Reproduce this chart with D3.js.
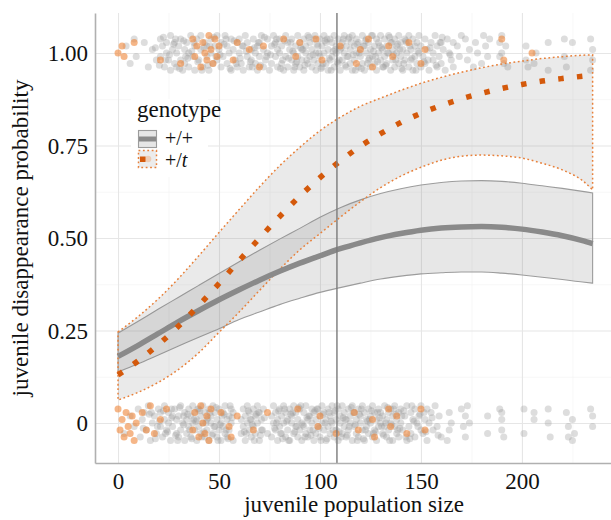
<!DOCTYPE html>
<html>
<head>
<meta charset="utf-8">
<script src="https://cdn.jsdelivr.net/npm/d3@7"></script>
<style>
body { margin: 0; background: #fff; }
svg text { font-family: "Liberation Serif", "Times New Roman", serif; }
</style>
</head>
<body>
<svg id="chart"></svg>
<script>
// fitted curves
var popSize = [0,10,20,30,40,50,60,70,80,90,100,110,120,130,140,150,160,170,180,190,200,210,220,230,235];
var fitWT = [0.180,0.210,0.242,0.274,0.304,0.333,0.360,0.386,0.410,0.432,0.452,0.471,0.487,0.501,0.512,0.521,0.527,0.530,0.531,0.529,0.524,0.516,0.506,0.493,0.485];
var lowWT = [0.138,0.160,0.184,0.208,0.232,0.255,0.280,0.300,0.320,0.337,0.353,0.366,0.378,0.389,0.397,0.403,0.406,0.408,0.408,0.405,0.400,0.394,0.388,0.381,0.378];
var highWT = [0.243,0.275,0.308,0.340,0.372,0.404,0.436,0.467,0.497,0.526,0.556,0.582,0.603,0.620,0.633,0.643,0.650,0.654,0.655,0.653,0.648,0.641,0.634,0.626,0.622];
var fitT = [0.130,0.168,0.212,0.262,0.318,0.377,0.439,0.499,0.558,0.613,0.663,0.708,0.748,0.782,0.812,0.837,0.858,0.876,0.891,0.904,0.915,0.924,0.931,0.937,0.940];
var lowT = [0.062,0.083,0.110,0.145,0.190,0.245,0.300,0.358,0.415,0.468,0.512,0.556,0.598,0.636,0.667,0.691,0.710,0.721,0.724,0.722,0.716,0.702,0.684,0.655,0.630];
var highT = [0.246,0.288,0.336,0.391,0.452,0.515,0.577,0.638,0.695,0.745,0.790,0.826,0.856,0.878,0.899,0.918,0.934,0.948,0.960,0.970,0.978,0.985,0.990,0.994,0.995];
var cutoff = 108.4;

// jittered observations: [population size, jitter step]
var goneWT = [[4,2],[6,-3],[8,4],[9,-1],[13,3],[15,-4],[17,1],[19,-2],[21,4],[21,-1],[22,2],[23,-4],[24,0],[24,3],[25,-2],[26,5],[26,-5],[27,1],[28,-3],[28,3],[29,0],[29,-4],
[30,2],[31,-2],[31,4],[32,-5],[33,1],[33,-3],[34,3],[35,0],[35,-4],[36,5],[37,-1],[38,2],[38,-5],[39,4],[40,-2],[41,1],[41,5],[42,-4],[43,3],[44,-1],[44,2],[45,-5],[46,4],[46,0],[47,-3],[48,2],[49,-2],[49,5],
[50,1],[51,-4],[51,3],[52,-1],[53,5],[54,-3],[54,2],[55,0],[56,-5],[56,4],[57,1],[58,-2],[59,3],[59,-4],[60,0],[60,4],[61,-3],[62,2],[62,-5],[63,5],[64,-1],[64,3],[65,-4],[66,1],[66,-2],[67,4],[68,-3],[68,0],[69,2],[69,-5],
[70,3],[70,-1],[71,5],[72,-4],[72,1],[73,-2],[74,4],[74,0],[75,-5],[76,2],[76,-3],[77,5],[78,-1],[78,3],[79,-4],[79,1],[80,0],[80,4],[81,-3],[81,2],[82,-5],[83,5],[83,-1],[84,3],[84,-4],[85,1],[86,-2],[86,4],[87,0],[87,-5],[88,2],[88,-3],[89,5],[89,-1],
[90,3],[90,-4],[91,1],[91,-2],[92,4],[92,-5],[93,0],[93,2],[94,-3],[94,5],[95,-1],[95,3],[96,-4],[96,1],[97,4],[97,-2],[98,0],[98,-5],[99,2],[99,-3],
[100,4],[100,-1],[101,2],[101,-4],[102,5],[102,0],[103,-3],[103,3],[104,-5],[104,1],[105,4],[105,-2],[106,-1],[106,3],[107,-4],[107,5],[108,0],[108,2],[109,-3],[109,4],[110,-5],[110,1],
[111,3],[111,-2],[112,0],[112,5],[113,-4],[113,2],[114,-1],[114,4],[115,-3],[115,1],[116,5],[116,-5],[117,2],[117,-2],[118,0],[118,4],[119,-4],[119,3],[120,-1],[120,1],[121,5],[121,-3],
[122,2],[122,-5],[123,4],[123,0],[124,-2],[124,3],[125,-4],[125,1],[126,5],[126,-1],[127,-3],[127,2],[128,4],[128,-5],[129,0],[129,3],[130,-2],[130,5],[131,-4],[131,1],[132,-1],[132,4],
[133,2],[133,-3],[134,5],[134,0],[135,-5],[135,3],[136,1],[136,-2],[137,4],[137,-4],[138,0],[138,2],[139,-3],[139,5],[140,-1],[140,3],[141,-5],[141,1],[142,4],[142,-2],
[143,0],[143,3],[144,-4],[144,5],[145,1],[145,-2],[146,4],[146,-5],[147,2],[147,-1],[148,-3],[148,3],[149,0],[149,5],[150,-4],[150,2],
[151,-1],[152,4],[152,-3],[153,1],[154,-5],[155,3],[156,0],[156,-2],[157,5],[158,-4],[158,2],[159,-1],[160,3],[160,-3],[161,1],[162,-5],[163,4],[164,0],[165,-2],[166,3],[166,-4],[168,2],[169,-1],[170,5],
[172,4],[173,-2],[174,1],[176,-4],[177,3],[178,0],[180,-3],[181,5],[182,2],[183,-1],[184,4],[189,3],[189,-1],[190,5],[190,0],[191,-3],[192,2],[193,-4],
[202,2],[202,-2],[203,-4],[206,-3],[207,0],[213,3],[213,-5],[221,4],[221,-1],[222,-4],[225,3],[234,4],[235,1],[235,-2],[234,-5],
[18.5,1.5],[20.5,-3.5],[22.5,4.5],[25.5,-0.5],[27.5,2.5],[30.5,-4.5],[32.5,3.5],[34.5,-1.5],[36.5,0.5],[39.5,-2.5],[42.5,1.5],[44.5,-3.5],[47.5,4.5],[50.5,-0.5],[52.5,2.5],[55.5,-4.5],[57.5,3.5],[60.5,-1.5],[63.5,0.5],[65.5,-2.5],[67.5,1.5],[70.5,-3.5],[72.5,4.5],[75.5,-0.5],[77.5,2.5],[80.5,-4.5],[82.5,3.5],[84.5,-1.5],[86.5,0.5],[88.5,-2.5],[90.5,1.5],[92.5,-3.5],[94.5,4.5],[96.5,-0.5],[98.5,2.5],[100.5,-4.5],[102.5,3.5],[104.5,-1.5],[106.5,0.5],[108.5,-2.5],[110.5,1.5],[112.5,-3.5],[114.5,4.5],[116.5,-0.5],[118.5,2.5],[120.5,-4.5],[122.5,3.5],[124.5,-1.5],[126.5,0.5],[128.5,-2.5],[130.5,1.5],[132.5,-3.5],[134.5,4.5],[136.5,-0.5],[138.5,2.5],[140.5,-4.5],[142.5,3.5],[145.5,-1.5],[148.5,0.5],[151.5,-2.5],[154.5,1.5],[157.5,-3.5],[160.5,4.5],[164.5,-0.5],
[23.5,-2],[28.5,4],[33.5,-1],[37.5,3],[41.5,-5],[45.5,2],[48.5,-1],[53.5,4],[58.5,-3],[61.5,2],[66.5,-4],[69.5,3],[73.5,-1],[78.5,4],[81.5,-2],[85.5,3],[87.5,-4],[91.5,1],[93.5,-2],[97.5,5],[99.5,0],[101.5,-3],[103.5,4],[105.5,-5],[107.5,1],[109.5,-2],[111.5,4],[113.5,-1],[115.5,3],[117.5,-5],[119.5,0],[121.5,2],[123.5,-3],[125.5,5],[127.5,-1],[129.5,2],[131.5,-4],[133.5,0],[135.5,3],[137.5,-2],[139.5,1],[141.5,-3],[144.5,2],[147.5,-5],[153.5,-2],[159.5,3]];
var goneT = [[0,0],[2,2],[3,-1],[8,3],[21,-2],[31,-3],[37,4],[38,-1],[39,2],[41,-4],[42,3],[43,0],[44,-2],[45,5],[46,1],[47,-3],[48,4],[49,-1],[50,2],[57,-2],[59,3],[65,1],[70,-4],[72,2],[82,4],[88,-1],[90,3],[98,4],[101,-2],[110,2],[118,-3],[120,1],[124,4],[126,-4],[134,2],[136,-1],[144,3],[150,-3],[152,1],[190,4],[191,-2],[205,0]];
var stayWT = [[3,-3],[6,2],[8,-1],[10,4],[11,-4],[12,1],[13,3],[14,-2],[15,5],[16,-5],[17,0],[18,2],[19,-3],[20,4],
[21,-1],[21,3],[22,-4],[23,1],[23,5],[24,-2],[25,0],[25,3],[26,-5],[27,2],[27,-1],[28,4],[29,-3],[29,1],[30,-4],[30,2],
[31,5],[31,-2],[32,0],[33,3],[33,-5],[34,1],[34,-3],[35,4],[35,-1],[36,2],[36,-4],[37,5],[37,0],[38,-2],[38,3],[39,-5],[39,1],[40,4],[40,-1],
[41,2],[41,-3],[42,5],[42,0],[43,-4],[43,3],[44,1],[44,-2],[45,4],[45,-5],[46,0],[46,2],[47,-3],[47,5],[48,-1],[48,3],[49,-4],[49,1],[50,-2],[50,4],
[51,0],[51,-5],[52,3],[52,-1],[53,5],[53,-3],[54,1],[54,-4],[55,2],[55,-2],[56,4],[56,0],[57,-5],[57,3],
[61,1],[61,-3],[62,4],[62,-1],[63,-5],[63,2],[64,0],[64,5],[65,-2],[65,3],[66,-4],[66,1],[67,4],[67,-1],[68,-3],[68,2],[69,5],[69,0],[70,-5],[70,3],[71,1],[71,-2],[72,4],[74,-3],
[76,2],[76,-4],[77,5],[77,0],[78,-2],[78,3],[79,-5],[79,1],[80,4],[80,-1],[81,2],[81,-3],[82,5],[82,0],[83,-4],[83,3],[84,1],[84,-2],[85,4],[85,-5],[86,0],[86,2],[87,-3],[87,5],[88,-1],[88,3],[89,-4],[89,1],[90,-2],[90,4],
[91,0],[91,-5],[92,3],[92,-1],[93,5],[93,-3],[94,1],[94,-4],[95,2],[95,-2],[96,4],[96,0],[97,-5],[97,3],[98,1],[98,-3],[99,4],[99,-1],[100,2],[100,-4],
[101,5],[101,0],[102,-2],[102,3],[103,-5],[103,1],[104,4],[104,-1],[105,2],[105,-3],[106,5],[106,0],[107,-4],[107,3],[108,1],[108,-2],[109,4],[109,-5],[110,0],[110,2],
[111,-3],[111,5],[112,-1],[112,3],[113,-4],[113,1],[114,4],[114,-2],[115,0],[115,2],[116,-5],[116,5],[117,-1],[117,3],[118,-3],[118,1],[119,4],[119,-4],[120,0],[120,2],
[121,-2],[121,5],[122,-5],[122,3],[123,1],[123,-1],[124,4],[124,-3],[125,0],[125,2],[126,-4],[126,5],[127,-2],[127,3],[128,1],[128,-5],[129,4],[129,-1],[130,0],[130,3],
[131,-3],[131,2],[132,5],[132,-1],[133,-4],[133,1],[134,3],[134,-2],[135,0],[135,4],[136,-5],[136,2],[137,-1],[137,5],[138,-3],[138,1],[139,3],[139,-4],[140,0],[140,4],
[141,-2],[142,2],[143,-5],[143,5],[144,-1],[145,3],[145,-3],[146,1],[147,-4],[147,4],[148,0],[149,2],[150,-2],[150,5],
[151,-3],[152,1],[153,4],[153,-5],[154,0],[155,3],[156,-2],[157,5],[158,-1],[159,2],[160,-4],[163,-5],[164,3],[164,-2],[165,0],
[170,4],[171,-1],[172,2],[172,-4],[173,5],[174,0],[183,2],[183,-3],[189,4],[190,1],[190,-2],[191,-4],[190,3],[201,4],[201,-3],[206,1],[206,3],
[213,4],[213,0],[214,-4],[222,3],[223,-1],[223,-4],[225,1],[226,-3],[225,-5],[234,4],[235,2],[235,-1],
[12.5,-1.5],[15.5,2.5],[18.5,-4.5],[20.5,0.5],[22.5,3.5],[24.5,-2.5],[26.5,1.5],[28.5,-3.5],[30.5,4.5],[32.5,-0.5],[34.5,2.5],[36.5,-4.5],[38.5,0.5],[40.5,3.5],[42.5,-2.5],[44.5,1.5],[46.5,-3.5],[48.5,4.5],[50.5,-0.5],[52.5,2.5],[54.5,-4.5],[56.5,1.5],[62.5,-2.5],[64.5,3.5],[66.5,-0.5],[68.5,2.5],[70.5,-3.5],[72.5,1.5],[77.5,-1.5],[79.5,3.5],[81.5,-4.5],[83.5,0.5],[85.5,2.5],[87.5,-2.5],[89.5,4.5],[91.5,-0.5],[93.5,1.5],[95.5,-3.5],[97.5,3.5],[99.5,-1.5],[101.5,2.5],[103.5,-4.5],[105.5,0.5],[107.5,3.5],[109.5,-2.5],[111.5,1.5],[113.5,-3.5],[115.5,4.5],[117.5,-0.5],[119.5,2.5],[121.5,-4.5],[123.5,0.5],[125.5,3.5],[127.5,-2.5],[129.5,1.5],[131.5,-3.5],[133.5,4.5],[135.5,-0.5],[137.5,2.5],[139.5,-1.5],[141.5,3.5],[144.5,-4.5],[146.5,0.5],[149.5,2.5],[152.5,-2.5],[155.5,1.5],[158.5,-3.5],
[16.5,3],[19.5,-1],[23.5,-3],[26.5,4],[29.5,-5],[32.5,2],[35.5,-2],[37.5,1],[39.5,4],[41.5,-4],[43.5,0],[45.5,3],[47.5,-1],[49.5,-5],[51.5,2],[53.5,-2],[55.5,5],[63.5,-3],[65.5,1],[67.5,-5],[69.5,3],[71.5,-2],[78.5,0],[80.5,-3],[82.5,4],[84.5,-5],[86.5,3],[88.5,-1],[90.5,5],[92.5,-4],[94.5,2],[96.5,-2],[98.5,4],[100.5,-5],[102.5,0],[104.5,3],[106.5,-2],[108.5,5],[110.5,-4],[112.5,1],[114.5,-1],[116.5,3],[118.5,-5],[120.5,4],[122.5,-2],[124.5,1],[126.5,-3],[128.5,3],[130.5,-1],[132.5,0],[134.5,-5],[136.5,4],[138.5,-2],[140.5,2],[142.5,-4],[145.5,5],[148.5,-1],[151.5,3]];
var stayT = [[0,4],[1,-2],[2,1],[3,-4],[4,3],[5,-1],[6,-3],[7,2],[8,-5],[9,0],[12,3],[14,-2],[16,5],[18,-3],[21,1],[24,4],[37,-2],[38,3],[40,-4],[41,5],[42,0],[43,-3],[44,2],[45,-5],[46,4],[51,3],[55,-1],[56,-4],[59,2],[67,-2],[74,3],[89,4],[99,-1],[100,2],[108,-3],[117,3],[119,-2],[126,1],[127,-4],[134,4],[135,-1],[138,2],[143,-3],[150,4],[152,-2]];

var xTicks = [0, 50, 100, 150, 200];
var xMinor = [25, 75, 125, 175, 225];
var yTicks = [0, 0.25, 0.5, 0.75, 1];
var yTickLabels = ["0", "0.25", "0.50", "0.75", "1.00"];
var yMinor = [0.125, 0.375, 0.625, 0.875];

var w = 611;
var h = 520;
var margin = {left: 95, right: 0, top: 13, bottom: 57};
var jit = 0.0094;
var serif = '"Liberation Serif", "Times New Roman", serif';

var svg = d3.select("#chart")
	.attr("width", w)
	.attr("height", h);

var xScale = d3.scaleLinear()
	.domain([-11.4, 244.1])
	.range([margin.left, w - margin.right]);
var yScale = d3.scaleLinear()
	.domain([-0.108, 1.108])
	.range([h - margin.bottom, margin.top]);

var panelH = h - margin.bottom - margin.top;
var panelW = w - margin.left - margin.right;

// grid
function grid(g, vals, vertical, color, width) {
	var ax = vertical
		? d3.axisBottom(xScale).tickValues(vals).tickSize(-panelH).tickFormat("")
		: d3.axisLeft(yScale).tickValues(vals).tickSize(-panelW).tickFormat("");
	g.call(ax);
	g.select(".domain").remove();
	g.selectAll("line").attr("stroke", color).attr("stroke-width", width);
}
svg.append("g").attr("transform", "translate(0," + (h - margin.bottom) + ")")
	.call(grid, xMinor, true, "#f2f2f2", 0.6);
svg.append("g").attr("transform", "translate(" + margin.left + ",0)")
	.call(grid, yMinor, false, "#f2f2f2", 0.6);
svg.append("g").attr("transform", "translate(0," + (h - margin.bottom) + ")")
	.call(grid, xTicks, true, "#e6e6e6", 1.1);
svg.append("g").attr("transform", "translate(" + margin.left + ",0)")
	.call(grid, yTicks, false, "#e6e6e6", 1.1);

// points
function drawPoints(data, outcome, color, op) {
	svg.append("g").selectAll("circle")
		.data(data)
		.enter()
		.append("circle")
		.attr("cx", function (d) { return xScale(d[0]); })
		.attr("cy", function (d) { return yScale(outcome + d[1] * jit); })
		.attr("r", 3.5)
		.attr("fill", color)
		.attr("fill-opacity", op);
}
drawPoints(goneWT, 1, "#999999", 0.33);
drawPoints(stayWT, 0, "#999999", 0.33);
drawPoints(goneT, 1, "#ef8638", 0.6);
drawPoints(stayT, 0, "#ef8638", 0.6);

// ribbons
var bandLine = d3.line()
	.x(function (d) { return xScale(d[0]); })
	.y(function (d) { return yScale(d[1]); })
	.curve(d3.curveMonotoneX);
function ribbonPath(lo, hi) {
	var up = popSize.map(function (x, i) { return [x, hi[i]]; });
	var down = popSize.map(function (x, i) { return [x, lo[i]]; }).reverse();
	return bandLine(up) + "L" + bandLine(down).slice(1) + "Z";
}
svg.append("path")
	.attr("d", ribbonPath(lowWT, highWT))
	.attr("fill", "#808080")
	.attr("fill-opacity", 0.19)
	.attr("stroke", "#9c9c9c")
	.attr("stroke-width", 1.1);
svg.append("path")
	.attr("d", ribbonPath(lowT, highT))
	.attr("fill", "#808080")
	.attr("fill-opacity", 0.17)
	.attr("stroke", "#e8803a")
	.attr("stroke-width", 1.5)
	.attr("stroke-dasharray", "1.8 2.6");

// fitted lines
svg.append("path")
	.datum(popSize.map(function (x, i) { return [x, fitWT[i]]; }))
	.attr("d", bandLine)
	.attr("fill", "none")
	.attr("stroke", "#8a8a8a")
	.attr("stroke-width", 5.5);
svg.append("path")
	.datum(popSize.map(function (x, i) { return [x, fitT[i]]; }))
	.attr("d", bandLine)
	.attr("fill", "none")
	.attr("stroke", "#d4590b")
	.attr("stroke-width", 5.5)
	.attr("stroke-dasharray", "5.5 13.3");

// cutoff line
svg.append("line")
	.attr("x1", xScale(cutoff)).attr("x2", xScale(cutoff))
	.attr("y1", margin.top).attr("y2", h - margin.bottom)
	.attr("stroke", "#7a7a7a")
	.attr("stroke-width", 1.4);

// axes
var xAxis = d3.axisBottom(xScale).tickValues(xTicks).tickSize(0).tickPadding(10);
var yAxis = d3.axisLeft(yScale).tickValues(yTicks).tickSize(0).tickPadding(7)
	.tickFormat(function (d, i) { return yTickLabels[i]; });
var gx = svg.append("g")
	.attr("transform", "translate(0," + (h - margin.bottom) + ")")
	.call(xAxis);
var gy = svg.append("g")
	.attr("transform", "translate(" + margin.left + ",0)")
	.call(yAxis);
[gx, gy].forEach(function (g) {
	g.attr("font-family", null);
	g.select(".domain").attr("stroke", "#b0b0b0").attr("stroke-width", 1.6);
	g.selectAll("text")
		.style("font-family", serif)
		.attr("font-size", 23)
		.attr("fill", "#111");
});
gy.selectAll("text").attr("dy", "0.33em");

svg.append("text")
	.attr("x", margin.left + panelW / 2 + 1)
	.attr("y", 512)
	.attr("text-anchor", "middle")
	.style("font-family", serif)
	.attr("font-size", 23)
	.attr("fill", "#111")
	.text("juvenile population size");
svg.append("text")
	.attr("transform", "translate(28," + (margin.top + panelH / 2) + ") rotate(-90)")
	.attr("text-anchor", "middle")
	.style("font-family", serif)
	.attr("font-size", 23)
	.attr("fill", "#111")
	.text("juvenile disappearance probability");

// legend
var lg = svg.append("g").style("font-family", serif);
lg.append("rect").attr("x", 131).attr("y", 99).attr("width", 77).attr("height", 78).attr("fill", "#fff");
lg.append("text").attr("x", 137).attr("y", 117).attr("font-size", 23).attr("fill", "#111").text("genotype");
lg.append("rect").attr("x", 138.5).attr("y", 130.5).attr("width", 18).attr("height", 17)
	.attr("fill", "#e6e6e6").attr("stroke", "#9c9c9c").attr("stroke-width", 1.1);
lg.append("line").attr("x1", 139).attr("x2", 156).attr("y1", 139).attr("y2", 139)
	.attr("stroke", "#8a8a8a").attr("stroke-width", 5);
lg.append("rect").attr("x", 138.5).attr("y", 150.5).attr("width", 18).attr("height", 17)
	.attr("fill", "#ececec").attr("stroke", "#e8803a").attr("stroke-width", 1.5).attr("stroke-dasharray", "1.8 2.6");
lg.append("circle").attr("cx", 148).attr("cy", 159).attr("r", 3.3).attr("fill", "#ef8638").attr("fill-opacity", 0.3);
lg.append("rect").attr("x", 140).attr("y", 156.5).attr("width", 5.5).attr("height", 5.5).attr("fill", "#d4590b");
lg.append("text").attr("x", 165).attr("y", 144.5).attr("font-size", 20).attr("fill", "#111").text("+/+");
var tt = lg.append("text").attr("x", 165).attr("y", 166.5).attr("font-size", 20).attr("fill", "#111");
tt.append("tspan").text("+/");
tt.append("tspan").attr("font-style", "italic").text("t");
</script>
</body>
</html>
